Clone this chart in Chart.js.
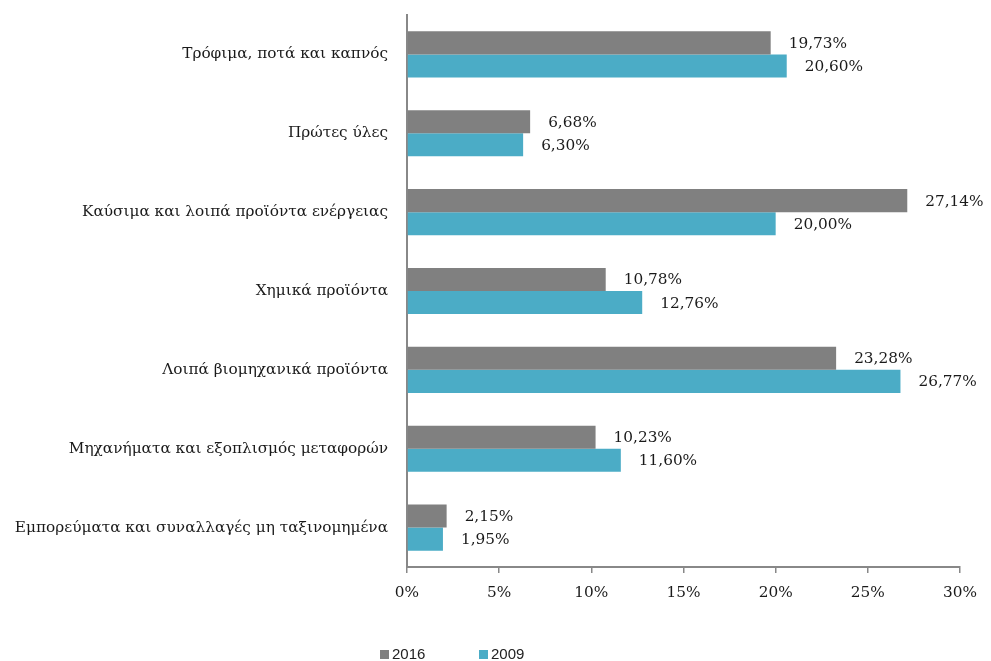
<!DOCTYPE html>
<html>
<head>
<meta charset="utf-8">
<script src="https://cdn.jsdelivr.net/npm/chart.js@4/dist/chart.umd.min.js"></script>
<style>
  html, body { margin: 0; padding: 0; background: #fff; }
  #wrap { width: 991px; height: 661px; }
</style>
</head>
<body>
<div id="wrap"><canvas id="barChart" width="991" height="661"></canvas></div>
<script>
// categories and values (percent)
const categories = [
  'Τρόφιμα, ποτά και καπνός',
  'Πρώτες ύλες',
  'Καύσιμα και λοιπά προϊόντα ενέργειας',
  'Χημικά προϊόντα',
  'Λοιπά βιομηχανικά προϊόντα',
  'Μηχανήματα και εξοπλισμός μεταφορών',
  'Εμπορεύματα και συναλλαγές μη ταξινομημένα'
];
const values2016 = [19.73, 6.68, 27.14, 10.78, 23.28, 10.23, 2.15];
const values2009 = [20.60, 6.30, 20.00, 12.76, 26.77, 11.60, 1.95];
const seriesNames = ['2016', '2009'];
const xTicks = [0, 5, 10, 15, 20, 25, 30];

const serif = "'DejaVu Serif', serif";
const sans = "'Liberation Sans', Arial, sans-serif";

const fmt = v => v.toFixed(2).replace('.', ',') + '%';

// value labels right of each bar
const valueLabels = {
  id: 'valueLabels',
  afterDatasetsDraw(chart) {
    const c = chart.ctx;
    c.save();
    c.font = '15.3px ' + serif;
    c.fillStyle = '#1a1a1a';
    c.textAlign = 'left';
    c.textBaseline = 'middle';
    chart.data.datasets.forEach((ds, i) => {
      chart.getDatasetMeta(i).data.forEach((bar, j) => {
        c.fillText(fmt(ds.data[j]), bar.x + 18, bar.y + 1);
      });
    });
    c.restore();
  }
};

// legend drawn under the axis
const bottomLegend = {
  id: 'bottomLegend',
  afterDraw(chart) {
    const c = chart.ctx;
    c.save();
    c.font = '15px ' + sans;
    c.textBaseline = 'middle';
    let x = 380;
    const y = 655;
    chart.data.datasets.forEach(ds => {
      c.fillStyle = ds.backgroundColor;
      c.fillRect(x, y - 5, 9, 9);
      c.fillStyle = '#222';
      c.fillText(ds.label, x + 12, y);
      x += 99;
    });
    c.restore();
  }
};

const ctx = document.getElementById('barChart').getContext('2d');
const barChart = new Chart(ctx, {
  type: 'bar',
  data: {
    labels: categories,
    datasets: [
      { label: seriesNames[0], data: values2016, backgroundColor: '#808080' },
      { label: seriesNames[1], data: values2009, backgroundColor: '#4bacc6' }
    ]
  },
  options: {
    indexAxis: 'y',
    responsive: false,
    animation: false,
    layout: { padding: { top: 15, right: 31, left: 0, bottom: 0 } },
    datasets: { bar: { categoryPercentage: 0.585, barPercentage: 1.0 } },
    plugins: { legend: { display: false }, tooltip: { enabled: false } },
    scales: {
      x: {
        min: 0, max: 30,
        afterBuildTicks: s => { s.ticks = xTicks.map(v => ({ value: v })); },
        afterFit: s => { s.height = 94; },
        grid: { drawOnChartArea: false, color: '#888', tickLength: 6, lineWidth: 1.5 },
        border: { color: '#888', width: 2 },
        ticks: { color: '#1a1a1a', font: { family: serif, size: 15.3 }, padding: 11,
                 callback: v => v + '%' }
      },
      y: {
        afterFit: s => { s.width = 407; s.paddingTop = 0; s.paddingBottom = 0; },
        grid: { display: false },
        border: { color: '#888', width: 2 },
        ticks: { color: '#1a1a1a', font: { family: serif, size: 15.3 }, padding: 11 }
      }
    }
  },
  plugins: [valueLabels, bottomLegend]
});
</script>
</body>
</html>
